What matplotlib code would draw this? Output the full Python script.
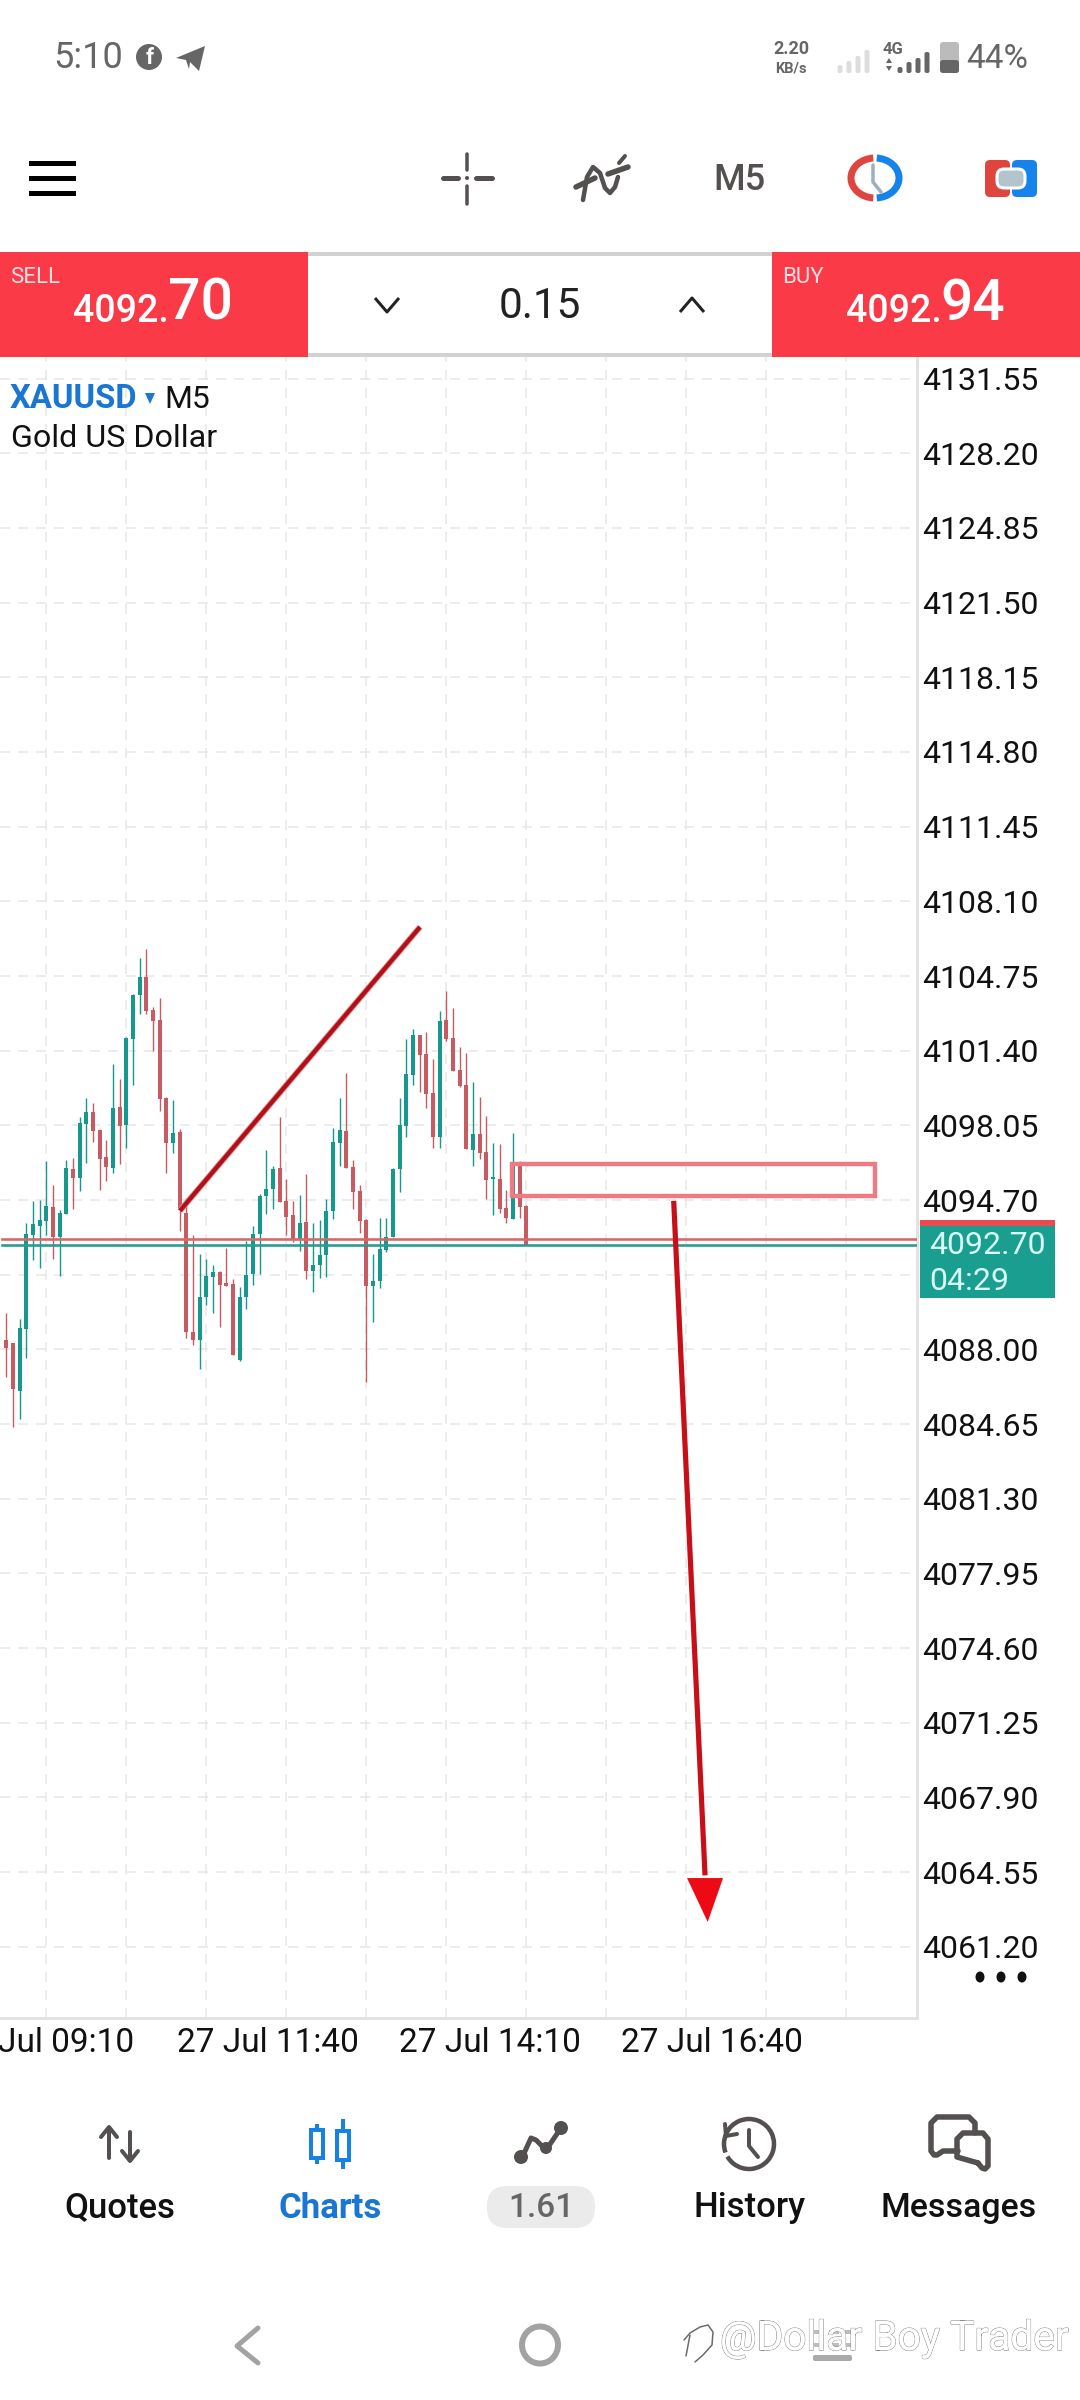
import matplotlib
matplotlib.use("Agg")
import matplotlib.pyplot as plt
import matplotlib.patheffects as pe
from matplotlib.patches import Rectangle, FancyBboxPatch, Arc, Circle, Ellipse, Polygon

plt.rcParams['font.family'] = ['Roboto', 'DejaVu Sans']

# ---------- chart data ----------
highs = [4089.61,4088.30,4089.37,4093.68,4094.65,4094.70,4096.43,4095.36,4094.25,4096.49,
         4096.58,4098.44,4099.29,4099.07,4097.87,4097.39,4100.80,4100.14,4102.00,4103.94,
         4105.56,4105.94,4103.37,4103.76,4099.30,4099.18,4097.90,4094.79,4093.14,4092.28,
         4092.07,4091.80,4091.50,4092.55,4091.17,4090.81,4092.85,4093.53,4094.97,4096.94,
         4096.22,4098.44,4095.63,4094.64,4094.91,4095.86,4093.68,4093.80,4094.73,4097.93,
         4099.27,4100.38,4096.49,4095.36,4093.83,4092.28,4093.89,4093.89,4096.12,4099.27,
         4101.91,4102.36,4102.10,4102.23,4101.04,4103.16,4104.09,4103.31,4101.58,4101.28,
         4099.99,4099.30,4098.47,4097.27,4097.21,4095.15,4097.69,4096.43,4094.46]
lows = [4086.74,4084.53,4084.89,4087.61,4092.01,4091.65,4093.11,4092.07,4091.29,4094.07,
        4094.28,4095.12,4096.37,4097.30,4095.15,4095.54,4095.89,4096.31,4097.03,4099.86,
        4103.04,4103.04,4101.40,4098.71,4095.89,4096.79,4093.32,4088.53,4088.18,4087.13,
        4089.97,4089.61,4089.01,4090.84,4087.73,4087.46,4089.82,4090.90,4091.38,4094.07,
        4094.28,4094.61,4093.14,4092.83,4092.43,4091.17,4090.57,4091.20,4091.26,4093.86,
        4096.22,4096.13,4094.28,4093.23,4086.53,4089.22,4090.75,4092.37,4093.02,4095.06,
        4097.54,4099.84,4099.54,4098.83,4097.03,4097.03,4101.85,4100.47,4099.75,4096.97,
        4096.22,4096.55,4094.73,4094.01,4094.13,4093.68,4093.86,4093.89,4092.70]
body_tops = [4088.44,4088.30,4088.95,4093.17,4093.62,4093.80,4094.43,4094.40,4094.10,4096.13,
             4096.07,4098.17,4098.65,4098.65,4097.84,4096.61,4098.83,4098.89,4101.97,4103.91,
             4104.69,4104.69,4103.22,4102.77,4099.27,4097.69,4097.75,4094.13,4088.80,4090.33,
             4091.29,4091.47,4091.47,4090.96,4090.93,4090.33,4091.35,4093.17,4094.88,4095.18,
             4096.07,4096.13,4094.67,4094.01,4093.68,4093.71,4091.77,4092.25,4094.22,4097.30,
             4097.84,4097.81,4096.19,4095.12,4093.80,4091.05,4092.49,4093.05,4096.07,4098.05,
             4100.35,4102.09,4102.09,4101.25,4099.51,4102.71,4102.77,4101.97,4100.53,4099.87,
             4097.66,4097.66,4096.85,4095.66,4095.66,4094.34,4096.28,4096.28,4094.43]
body_bottoms = [4088.06,4086.23,4086.14,4088.92,4093.14,4093.53,4093.77,4093.02,4093.05,4094.07,
                4095.69,4095.69,4098.11,4097.81,4096.55,4096.19,4096.13,4098.02,4098.05,4101.94,
                4103.91,4103.19,4102.74,4099.24,4097.27,4097.27,4094.25,4088.77,4088.41,4088.44,
                4090.33,4091.26,4090.90,4090.84,4087.73,4087.52,4090.33,4091.38,4093.17,4094.88,
                4095.18,4094.61,4093.95,4092.90,4092.93,4091.53,4091.53,4091.80,4092.22,4094.22,
                4097.27,4096.13,4095.06,4093.77,4090.84,4090.84,4091.05,4092.45,4093.02,4096.07,
                4098.02,4100.32,4101.22,4099.45,4097.51,4097.51,4101.91,4100.50,4099.81,4097.00,
                4096.94,4096.82,4095.60,4095.63,4094.28,4093.89,4093.86,4094.40,4092.70]
is_up = [0,0,1,1,1,1,1,0,1,1,0,1,1,0,0,0,1,0,1,1,1,0,0,0,0,1,0,0,0,1,1,1,0,0,0,1,1,1,1,1,
         1,0,0,0,1,0,1,1,1,1,1,0,0,0,0,1,1,1,1,1,1,1,0,0,0,1,0,0,0,0,1,0,0,1,0,0,1,0,0]

y_tick_values = [4131.55,4128.20,4124.85,4121.50,4118.15,4114.80,4111.45,4108.10,4104.75,4101.40,
                 4098.05,4094.70,4091.35,4088.00,4084.65,4081.30,4077.95,4074.60,4071.25,4067.90,
                 4064.55,4061.20]
y_tick_labels = ["4131.55","4128.20","4124.85","4121.50","4118.15","4114.80","4111.45","4108.10",
                 "4104.75","4101.40","4098.05","4094.70","","4088.00","4084.65","4081.30","4077.95",
                 "4074.60","4071.25","4067.90","4064.55","4061.20"]
x_grid_bars = [6,18,30,42,54,66,78,90,102,114,126]
x_tick_bars = [9.0,39.3,72.5,105.8]
x_tick_labels = ["Jul 09:10","27 Jul 11:40","27 Jul 14:10","27 Jul 16:40"]

ask_price = 4092.94
bid_price = 4092.70
trend_bars = [26.05,62.05]
trend_prices = [4094.22,4106.95]
zone_bars = [75.85,130.3]
zone_prices = [4094.89,4096.32]
arrow_bars = [100.1,104.8]
arrow_prices = [4094.66,4064.4]
arrow_head_bars = [102.1,107.5,105.2]
arrow_head_prices = [4064.28,4064.28,4062.31]

GREEN = '#16998c'
RED = '#c85a62'
P = 0.72  # points per pixel at dpi 100

fig = plt.figure(figsize=(10.8,24), dpi=100, facecolor='white')
W,H = 1080,2400
ax_l,ax_r,ax_t,ax_b = 0,917,357,2018
ax = fig.add_axes([ax_l/W,1-ax_b/H,(ax_r-ax_l)/W,(ax_b-ax_t)/H])
ppp = 3.35/74.67
ax.set_xlim((0-6.33)/6.667,(917-6.33)/6.667)
ax.set_ylim(4104.75-(ax_b-976)*ppp,4104.75-(ax_t-976)*ppp)

ax.set_yticks(y_tick_values)
ax.set_yticklabels(y_tick_labels,fontsize=23,color='#111111',va='center_baseline')
ax.yaxis.tick_right()
ax.tick_params(axis='y',length=0,pad=3.8)
ax.set_xticks(x_tick_bars)
ax.set_xticklabels(x_tick_labels,fontsize=24,color='#111111')
ax.tick_params(axis='x',length=0,pad=6.5)
ax.set_xticks(x_grid_bars,minor=True)
ax.tick_params(axis='x',which='minor',length=0)
dash=(0,(6.7,5.3))
ax.grid(True,axis='y',which='major',color='#e6e6e6',lw=1.5*P,ls=dash)
ax.grid(True,axis='x',which='minor',color='#e6e6e6',lw=1.5*P,ls=dash)
ax.grid(False,axis='x',which='major')
ax.set_axisbelow(True)
for s in ['top','left']:
    ax.spines[s].set_visible(False)
for s in ['right','bottom']:
    ax.spines[s].set_color('#e2e2e2')
    ax.spines[s].set_linewidth(3*P)

# candles
xs = list(range(len(highs)))
colors = [GREEN if u else RED for u in is_up]
ax.vlines(xs,lows,highs,colors=colors,lw=1.4*P,zorder=3)
heights = [max(t-b,0.12) for t,b in zip(body_tops,body_bottoms)]
ax.bar(xs,heights,bottom=body_bottoms,width=0.58,color=colors,linewidth=0,zorder=4)

# price lines
ax.axhline(ask_price,xmin=2/917,color='#d4696c',lw=2.6*P,zorder=5)
ax.axhline(bid_price,xmin=2/917,color='#2b9b90',lw=2.6*P,zorder=5)

# drawn objects
ax.plot(trend_bars,trend_prices,color='#e88a8a',lw=6*P,zorder=6,solid_capstyle='butt')
ax.plot(trend_bars,trend_prices,color='#b0101a',lw=4.2*P,zorder=6,solid_capstyle='butt')
ax.add_patch(Rectangle((zone_bars[0],zone_prices[0]),zone_bars[1]-zone_bars[0],zone_prices[1]-zone_prices[0],
                       fill=False,ec='#ee7a84',lw=4.4*P,zorder=7))
ax.plot(arrow_bars,arrow_prices,color='#c80f18',lw=5.2*P,zorder=8,solid_capstyle='butt')
ax.fill(arrow_head_bars,arrow_head_prices,color='#ee0a14',lw=0,zorder=9)

# ---------- UI overlay ----------
ui = fig.add_axes([0,0,1,1],zorder=5)
ui.set_xlim(0,W); ui.set_ylim(H,0); ui.axis('off'); ui.patch.set_alpha(0)

def T(x,y,s,size,color='#111111',ha='left',weight='normal',**k):
    return ui.text(x,y+2.5,s,fontsize=size,color=color,ha=ha,va='center',fontweight=weight,**k)
def R(x0,y0,x1,y1,c,**k):
    ui.add_patch(Rectangle((x0,y0),x1-x0,y1-y0,fc=c,ec='none',**k))
def RR(x0,y0,x1,y1,c,r=4,ec='none',lw=0):
    ui.add_patch(FancyBboxPatch((x0+r,y0+r),x1-x0-2*r,y1-y0-2*r,boxstyle=f"round,pad={r},rounding_size={r}",fc=c,ec=ec,lw=lw))
def L(xs,ys,c,w,cap='round',**k):
    ui.plot(xs,ys,color=c,lw=w*P,solid_capstyle=cap,solid_joinstyle='round',**k)

GREY='#666666'; DK='#555050'
# status bar
T(53,55,"5:10",26,GREY)
ui.add_patch(Circle((149,57),13,fc=GREY,ec='none'))
T(150,56,"f",16,'white',ha='center',weight='bold')
ui.add_patch(Polygon([(176,58),(205,46),(199,71),(190,62),(189,69),(186,60)],fc=GREY,ec='none'))
T(791,47,"2.20",13,GREY,ha='center',weight='bold')
T(791,66,"KB/s",10.5,GREY,ha='center',weight='bold')
for x,h in zip([840,849,858,867],[8,12,17,23]):
    RR(x-2.5,73-h,x+2.5,73,'#dddddd',r=2)
T(893,47,"4G",12,GREY,ha='center',weight='bold')
ui.add_patch(Polygon([(886,63),(892,63),(889,58)],fc=GREY))
ui.add_patch(Polygon([(886,66),(892,66),(889,71)],fc=GREY))
for x,h in zip([900,909,918,927],[6,11,15,21]):
    RR(x-2.5,73-h,x+2.5,73,GREY,r=2)
RR(940,42,959,73,'#bbbbbb',r=3)
RR(940,60,959,73,GREY,r=3)
T(966,57,"44%",24,GREY)

# toolbar
for y in (163,178,193):
    R(29,y-2.5,76,y+2.5,'black')
L([443,458],[178,178],DK,5); L([476,492],[178,178],DK,5)
L([467,467],[154,170],DK,3.5); L([467,467],[186,204],DK,3.5)
ui.add_patch(Circle((467,178),2,fc=DK))
L([583,587,593,600,605,610,615,618],[200,177,167,173,188,193,187,177],DK,4.5)
L([576,595],[187,178],DK,5.5); L([608,628],[174,167],DK,5.5)
L([619,625],[163,156],DK,4)
T(739,178,"M5",26,DK,ha='center',weight='medium')
ui.add_patch(Arc((875,178),48,40,theta1=95,theta2=265,ec='#e0443e',lw=7*P))
ui.add_patch(Arc((875,178),48,40,theta1=-85,theta2=85,ec='#1583ea',lw=7*P))
L([873,873,881],[165,182,192],'#9db0bd',3.5)
RR(985,160,1010,197,'#e0443e',r=5)
RR(1012,160,1037,197,'#1583ea',r=5)
RR(997,169,1025,188,'#b4c4cc',r=7,ec='white',lw=3*P)

# sell/buy bar
R(308,252,772,256,'#d2d2d2'); R(308,353,772,357,'#d2d2d2')
SELLRED='#fb3a48'
R(0,252,308,357,SELLRED); R(772,252,1080,357,SELLRED)
T(10,275,"SELL",16,'#ffdfe2')
T(73,309,"4092.",27,'white',weight='medium')
T(168,302,"70",41,'white',weight='medium')
T(782,275,"BUY",16,'#ffdfe2')
T(846,309,"4092.",27,'white',weight='medium')
T(940,302,"94",41,'white',weight='medium')
T(540,304,"0.15",30.5,'#222222',ha='center')
L([375,387,399],[298,312,298],'#222222',3,cap='butt')
L([680,692,704],[312,298,312],'#222222',3,cap='butt')

# symbol labels
T(10,397,"XAUUSD",23.6,'#1976d2',weight='bold')
ui.add_patch(Polygon([(145,393),(155,393),(150,404)],fc='#1976d2'))
T(164,397,"M5",23,'#111111')
T(11,436,"Gold US Dollar",23.2,'#111111')

# current price box
R(920,1220,1055,1298,'#1a9e90')
R(920,1220,1055,1226,'#e84c50')
T(929,1243,"4092.70",23,'#d9fbf6')
T(929,1279,"04:29",23,'#d9fbf6')

# dots
for x in (980,1001,1022):
    ui.add_patch(Ellipse((x,1977),9,11,fc='#111111'))

# bottom nav
NAVY=2205.5
T(120,NAVY,"Quotes",25,'#111111',ha='center',weight='medium')
T(330,NAVY,"Charts",25,'#1976d2',ha='center',weight='bold')
RR(487,2186,595,2228,'#ebebeb',r=20)
T(541,NAVY,"1.61",24,'#666666',ha='center',weight='medium')
T(749,NAVY,"History",25,'#111111',ha='center',weight='medium')
T(959,NAVY,"Messages",24.4,'#111111',ha='center',weight='medium')
# quotes icon
L([109,109],[2128,2158],DK,4); L([101,109,117],[2137,2127,2137],DK,4)
L([130,130],[2132,2160],DK,4); L([122,130,138],[2151,2161,2151],DK,4)
# charts icon
BL='#1682e6'
for x,t,b,hi,lo in [(317,2130,2158,2124,2164),(343,2131,2160,2119,2169)]:
    L([x,x],[hi,lo],BL,4,cap='butt')
    ui.add_patch(Rectangle((x-6,t),12,b-t,fc='white',ec=BL,lw=4*P,zorder=4))
# trade icon
L([521,531,536,546,561],[2160,2138,2140,2150,2128],DK,5)
for x,y,r in [(521,2157,7),(546,2148,6),(561,2128,7)]:
    ui.add_patch(Circle((x,y),r,fc=DK))
# history icon
ui.add_patch(Arc((749,2144),50,50,theta1=-200,theta2=150,ec=DK,lw=4.5*P))
L([749,749,758],[2130,2146,2157],DK,4)
L([725,726,737],[2124,2136,2134],DK,4)
# messages icon
L([958,943,937,934,931,931,937,969,975,975],[2151,2151,2155,2155,2151,2123,2117,2117,2123,2133],DK,5.5)
L([978,982,985,988,988,983,963,957,957,978],[2163,2168,2169,2166,2139,2133,2133,2139,2157,2163],DK,5.5)

# android nav
L([258,237,258],[2328,2346,2363],'#a2a2a2',5)
ui.add_patch(Ellipse((540,2345),36,37,fc='none',ec='#a2a2a2',lw=6*P))
for y in (2332,2345):
    ui.plot([813,852],[y,y],color='#bdbdbd',lw=4*P,ls=(0,(2.5,1.5)))
RR(813,2355,852,2361,'#aaaaaa',r=2)

# watermark
t=T(720,2336,"@Dollar Boy Trader",29.3,'white')
t.set_path_effects([pe.withStroke(linewidth=0.9,foreground='#8a8a8a'),pe.Normal()])
L([684,690,700,708,713,712,703,695,695],[2340,2333,2327,2325,2332,2345,2355,2362,2362],'#6a6a6a',1.5)
L([690,686],[2335,2356],'#6a6a6a',1.5)

fig.savefig('out.png',dpi=100)
